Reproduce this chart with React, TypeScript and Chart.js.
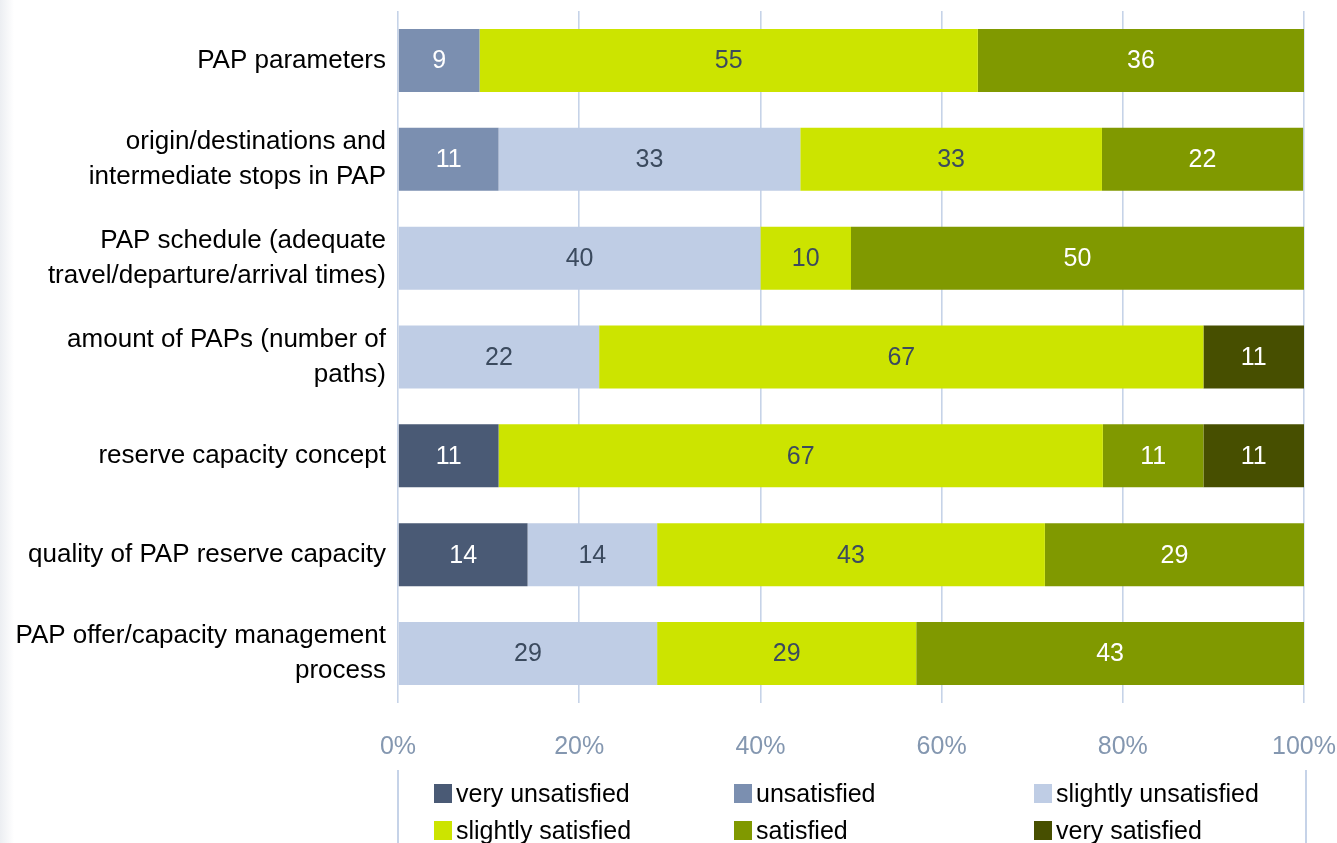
import React, { useEffect, useRef } from "react";
import { Chart, registerables } from "chart.js";

Chart.register(...registerables);

const categories: (string | string[])[] = [
  "PAP parameters",
  ["origin/destinations and", "intermediate stops in PAP"],
  ["PAP schedule (adequate", "travel/departure/arrival times)"],
  ["amount of PAPs (number of", "paths)"],
  "reserve capacity concept",
  "quality of PAP reserve capacity",
  ["PAP offer/capacity management", "process"],
];

const seriesNames = [
  "very unsatisfied",
  "unsatisfied",
  "slightly unsatisfied",
  "slightly satisfied",
  "satisfied",
  "very satisfied",
];

const veryUnsatisfied = [null, null, null, null, 11.1, 14.3, null];
const unsatisfied = [9, 11.1, null, null, null, null, null];
const slightlyUnsatisfied = [null, 33.3, 40, 22.2, null, 14.3, 28.6];
const slightlySatisfied = [55, 33.3, 10, 66.7, 66.7, 42.8, 28.6];
const satisfied = [36, 22.2, 50, null, 11.1, 28.6, 42.8];
const verySatisfied = [null, null, null, 11.1, 11.1, null, null];

const seriesValues = [
  veryUnsatisfied,
  unsatisfied,
  slightlyUnsatisfied,
  slightlySatisfied,
  satisfied,
  verySatisfied,
];

const seriesColors = ["#4a5a75", "#7b8fb0", "#bfcde5", "#cce400", "#809900", "#474f00"];
const labelColors = ["#ffffff", "#ffffff", "#3b4a5e", "#3b4a5e", "#ffffff", "#ffffff"];

const xTicks = [0, 20, 40, 60, 80, 100];

const FONT = "'Liberation Sans', Arial, sans-serif";

const dataLabelPlugin = {
  id: "dataLabels",
  afterDatasetsDraw(chart: any) {
    const ctx = chart.ctx;
    ctx.save();
    ctx.font = `25px ${FONT}`;
    ctx.textAlign = "center";
    ctx.textBaseline = "middle";
    chart.data.datasets.forEach((ds: any, di: number) => {
      const meta = chart.getDatasetMeta(di);
      meta.data.forEach((el: any, i: number) => {
        const v = ds.data[i];
        if (v == null || v === 0) return;
        const p = el.getProps(["x", "y", "base"], true);
        ctx.fillStyle = labelColors[di];
        ctx.fillText(String(Math.round(v)), (p.x + p.base) / 2, p.y + 1);
      });
    });
    ctx.restore();
  },
};

export default function App() {
  const ref = useRef<HTMLCanvasElement | null>(null);

  useEffect(() => {
    if (!ref.current) return;
    const chart = new Chart(ref.current, {
      type: "bar",
      data: {
        labels: categories,
        datasets: seriesNames.map((name, i) => ({
          label: name,
          data: seriesValues[i],
          backgroundColor: seriesColors[i],
          borderWidth: 0,
          barPercentage: 1,
          categoryPercentage: 0.637,
        })),
      },
      options: {
        indexAxis: "y",
        animation: false,
        responsive: false,
        maintainAspectRatio: false,
        layout: { padding: { top: 11, right: 33, bottom: 80, left: 0 } },
        plugins: {
          legend: { display: false },
          tooltip: { enabled: false },
          title: { display: false },
        },
        scales: {
          x: {
            stacked: true,
            min: 0,
            max: 100,
            afterBuildTicks: (scale: any) => {
              scale.ticks = xTicks.map((v) => ({ value: v }));
            },
            afterFit: (scale: any) => {
              scale.height = 60;
              scale.paddingLeft = 0;
              scale.paddingRight = 0;
            },
            grid: { color: "#c6d3e8", lineWidth: 1.6, drawTicks: false },
            border: { display: false },
            ticks: {
              color: "#8497b0",
              font: { family: FONT, size: 25 },
              padding: 29,
              callback: (v: any) => `${v}%`,
            },
          },
          y: {
            stacked: true,
            afterFit: (scale: any) => {
              scale.width = 398;
              scale.paddingTop = 0;
              scale.paddingBottom = 0;
            },
            grid: { display: false, drawTicks: false },
            border: { display: false },
            ticks: {
              color: "#000000",
              font: { family: FONT, size: 26, lineHeight: 1.35 },
              padding: 12,
              autoSkip: false,
            },
          },
        },
      },
      plugins: [dataLabelPlugin],
    });
    return () => chart.destroy();
  }, []);

  return (
    <div style={{ position: "fixed", left: 0, top: 0, width: 1337, height: 843, background: "#ffffff", overflow: "hidden" }}>
      <div
        style={{
          position: "absolute",
          left: 0,
          top: 0,
          width: 14,
          height: 843,
          background: "linear-gradient(to right, #eceef2, #ffffff)",
        }}
      />
      <canvas ref={ref} width={1337} height={843} style={{ position: "absolute", left: 0, top: 0 }} />
      <div
        style={{
          position: "absolute",
          left: 397,
          top: 770,
          width: 906,
          height: 90,
          borderLeft: "2px solid #c6d3e8",
          borderRight: "2px solid #c6d3e8",
          fontFamily: FONT,
          fontSize: 25,
          color: "#000",
        }}
      >
        {seriesNames.map((name, i) => (
          <div
            key={name}
            style={{
              position: "absolute",
              left: 35 + (i % 3) * 300,
              top: 23 + Math.floor(i / 3) * 37 - 15,
              height: 30,
              display: "flex",
              alignItems: "center",
              whiteSpace: "nowrap",
            }}
          >
            <span style={{ display: "inline-block", width: 18, height: 19, background: seriesColors[i], marginRight: 4 }} />
            <span>{name}</span>
          </div>
        ))}
      </div>
    </div>
  );
}
